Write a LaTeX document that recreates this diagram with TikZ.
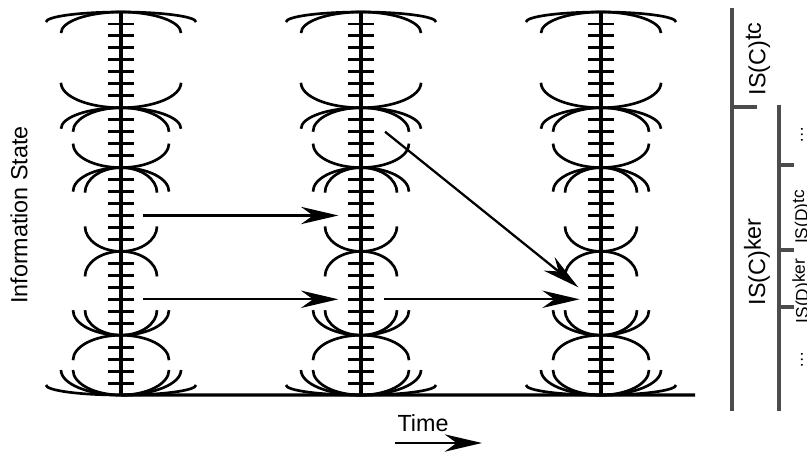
\documentclass[tikz,border=0pt]{standalone}
\usepackage{fontspec}
\setmainfont{Liberation Sans}
\usetikzlibrary{arrows.meta}

\definecolor{bracketgray}{gray}{0.3}

\tikzset{
  axisline/.style={line width=2.4pt},
  tickline/.style={line width=2.2pt},
  arcline/.style={line width=2pt},
  bracketline/.style={line width=2.8pt, draw=bracketgray},
  flow/.style={line width=1.7pt, -{Stealth[length=28pt,width=13pt,inset=9pt]}},
  lbl/.style={font=\fontsize{17.5}{20}\selectfont, inner sep=0pt},
  sublbl/.style={font=\fontsize{13}{15}\selectfont, inner sep=0pt},
}

% one pair of quarter arcs at level #2 of the column at x=#1
% #3 = 1 (below) or -1 (above), #4 = x radius, #5 = y radius
\newcommand{\qarc}[5]{%
  \pgfmathsetmacro{\yy}{12+11.97*#2}
  \pgfmathsetmacro{\ye}{\yy+(#3)*#5}
  \pgfmathsetmacro{\yc}{\yy+(#3)*0.45*#5}
  \pgfmathsetmacro{\xl}{#1-#4}
  \pgfmathsetmacro{\xr}{#1+#4}
  \pgfmathsetmacro{\xlc}{#1-0.55*#4}
  \pgfmathsetmacro{\xrc}{#1+0.55*#4}
  \draw[arcline] (\xl,\ye) .. controls (\xl,\yc) and (\xlc,\yy) .. (#1,\yy)
    .. controls (\xrc,\yy) and (\xr,\yc) .. (\xr,\ye);}

\begin{document}
\begin{tikzpicture}[x=0.75pt,y=0.75pt,yscale=-1]
\useasboundingbox (0,0) rectangle (807,453);
\clip (0,0) rectangle (807,453);

% Columns
\foreach \cx/\cn in {121/A,361/B,601/C}{
  \draw[axisline] (\cx,12) -- (\cx,395);
  \foreach \k in {0,...,32}{
    \coordinate (\cn\k) at (\cx,12+11.97*\k);
  }
  \foreach \k in {1,...,7,9,10,11,12,14,15,...,19,21,22,...,26,28,29,30,31}{
    \draw[tickline] (\cx-13,12+11.97*\k) -- (\cx+13,12+11.97*\k);
  }
  \foreach \k/\d/\rx/\ry in {0/1/75/10, 0/1/60/21, 8/-1/60/25, 8/1/60/21, 8/1/48/24,
      13/-1/48/24, 13/1/48/24, 13/1/36/25, 20/-1/36/25, 20/1/36/25,
      27/-1/48/25, 27/-1/36/25, 27/1/48/25, 32/-1/48/25, 32/-1/60/25, 32/-1/75/10}{
    \qarc{\cx}{\k}{\d}{\rx}{\ry}
  }
}

% Baseline
\coordinate (baseend) at (695,395);
\draw[axisline] (A32) -- (baseend);

% Connection
\draw[flow] ([xshift=16.5pt]A17) -- ([xshift=-17pt]B17);
% Connection
\draw[flow] ([xshift=16.5pt]A24) -- ([xshift=-17pt]B24);
% Connection
\draw[flow] ([xshift=17pt]B24) -- ([xshift=-16pt]C24);
% Connection
\draw[flow] ([xshift=18pt]B10) -- ([xshift=-17pt]C23);

% Text Node
\node[lbl, rotate=90] (state) at (19,215) {Information State};
% Text Node
\node[lbl] (time) at (423,423) {Time};
\coordinate (t0) at (395,443);
\coordinate (t1) at (482,443);
% Connection
\draw[flow] (t0) -- (t1);

% Brackets
\coordinate (c0) at (732,8);
\coordinate (c1) at (732,107);
\coordinate (c2) at (732,411);
\coordinate (d0) at (779,105);
\coordinate (d1) at (779,165);
\coordinate (d2) at (779,250);
\coordinate (d3) at (779,307);
\coordinate (d4) at (779,411);
\draw[bracketline] (c0) -- (c2);
\draw[bracketline] (c1) -- ++(25,0);
\draw[bracketline] (d0) -- (d4);
\draw[bracketline] (d1) -- ++(15,0);
\draw[bracketline] (d2) -- ++(15,0);
\draw[bracketline] (d3) -- ++(15,0);

% Text Node
\node[lbl, rotate=90] (ctc) at (758,59) {IS(C)\raisebox{0.35ex}{tc}};
% Text Node
\node[lbl, rotate=90] (cker) at (757,262) {IS(C)\raisebox{0.35ex}{ker}};
% Text Node
\node[sublbl, rotate=90] (dtc) at (802,217) {IS(D)\raisebox{0.35ex}{tc}};
% Text Node
\node[sublbl, rotate=90] (dker) at (802,291) {IS(D)\raisebox{0.35ex}{ker}};
% Text Node
\node[sublbl, rotate=90] (dtop) at (802,135) {\dots};
% Text Node
\node[sublbl, rotate=90] (dbot) at (802,360) {\dots};
\end{tikzpicture}
\end{document}
